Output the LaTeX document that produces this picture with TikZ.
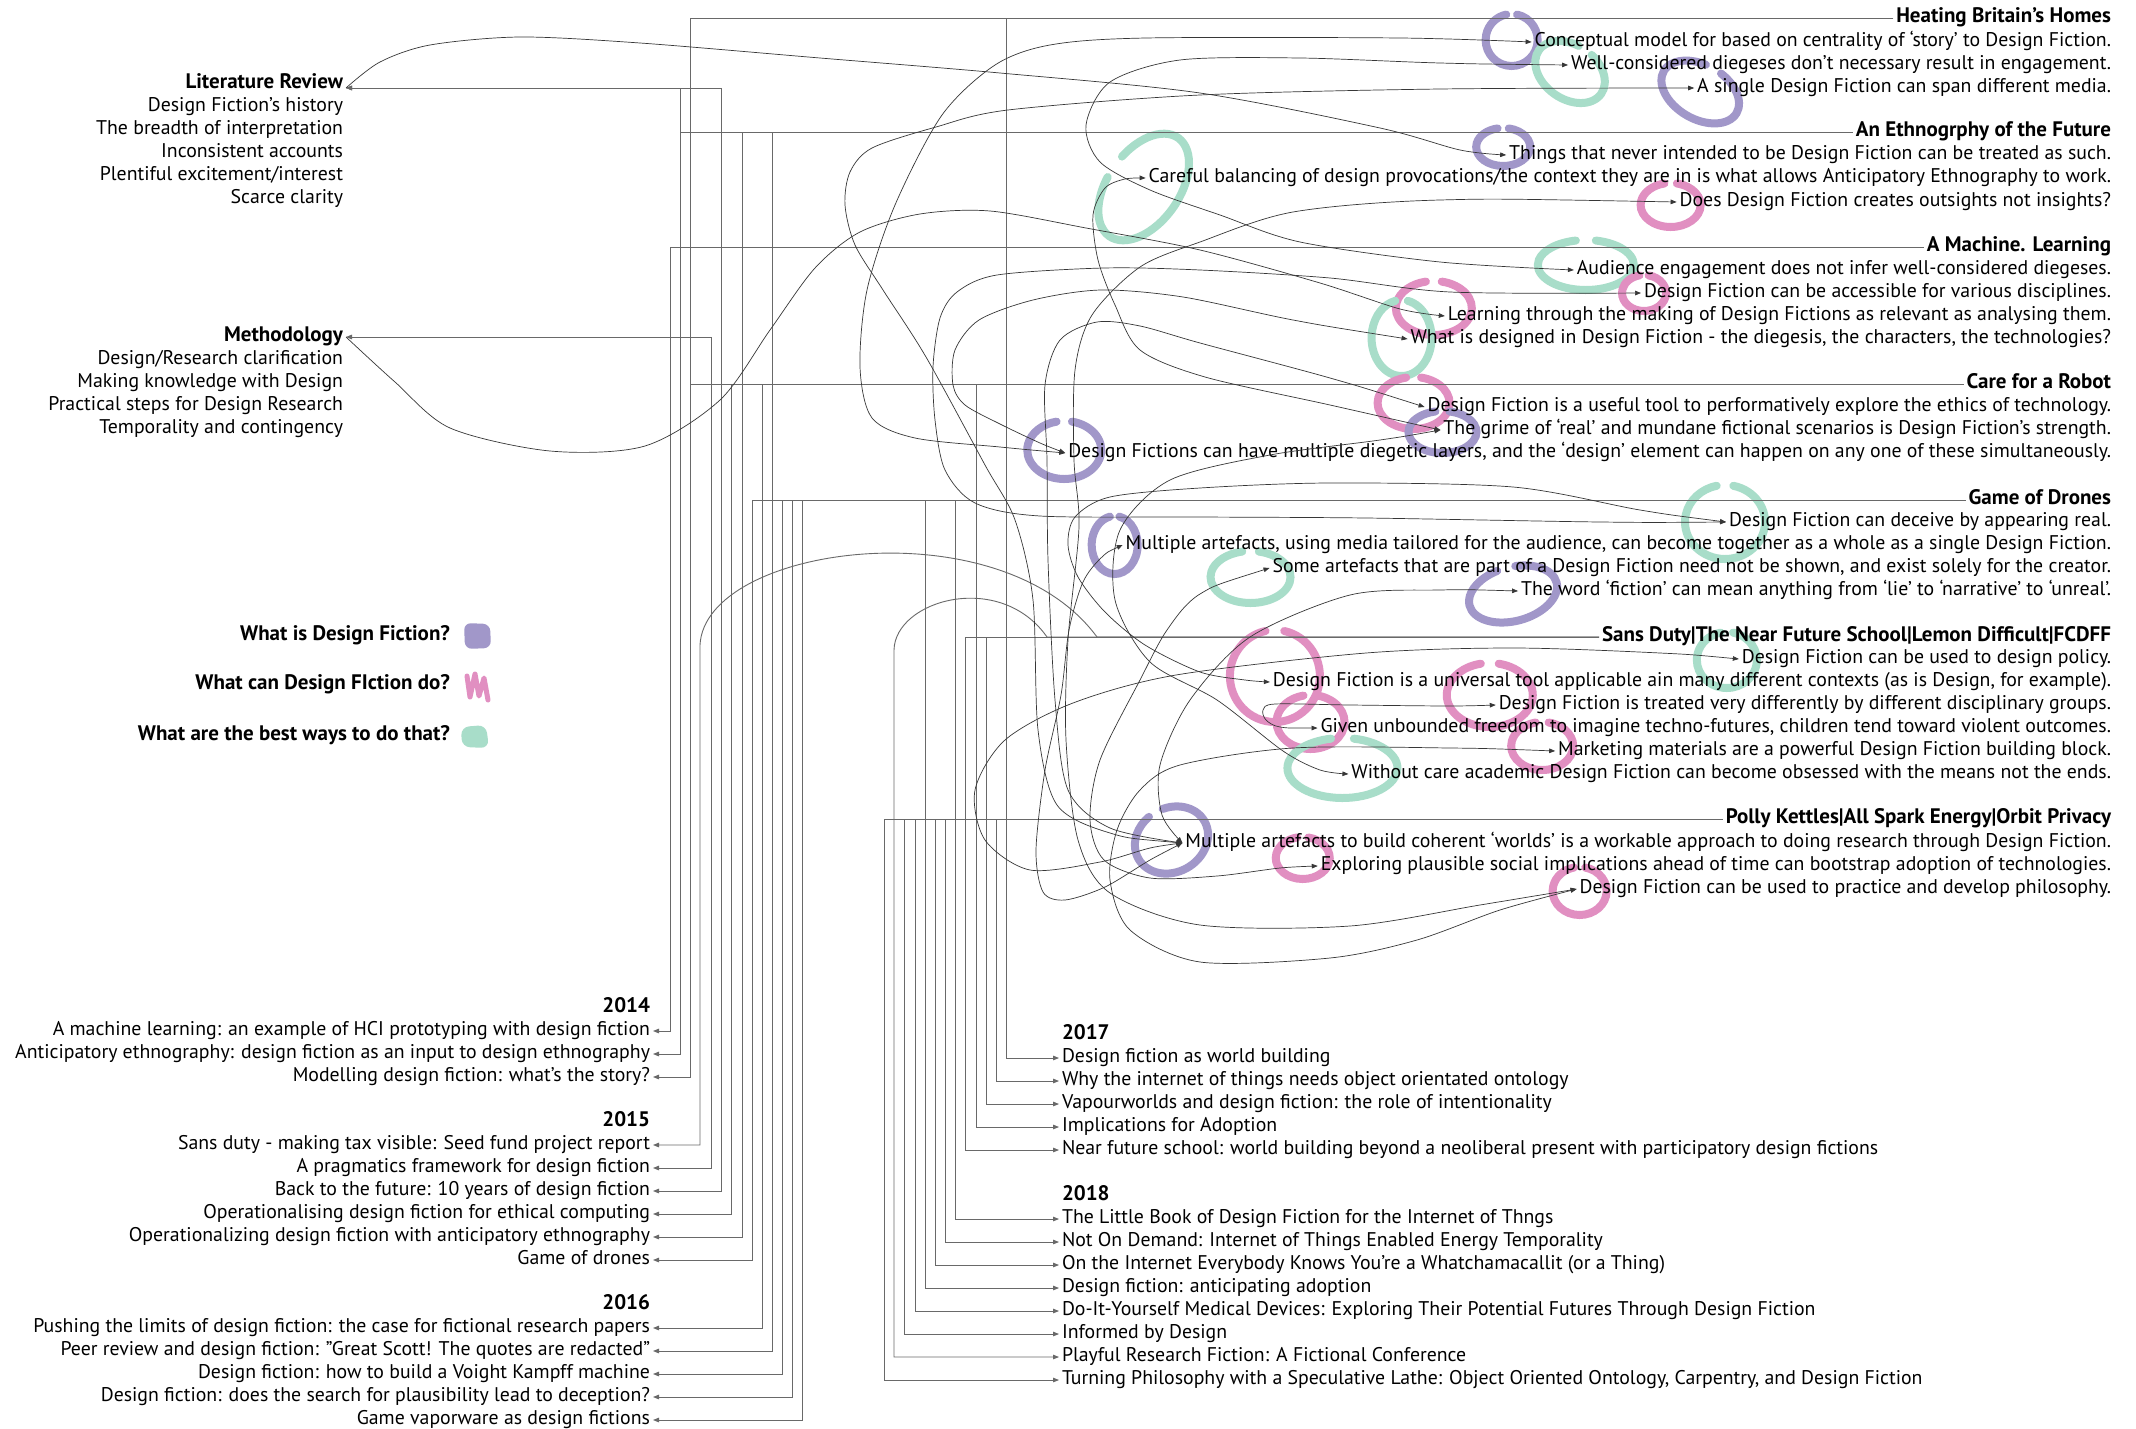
\documentclass[tikz,border=0pt]{standalone}
\usepackage{fontspec}
\setmainfont{PT Sans}
\usetikzlibrary{arrows.meta,calc}
\pgfdeclarelayer{bg}
\pgfsetlayers{bg,main}
\definecolor{cPur}{RGB}{161,151,201}
\definecolor{cPink}{RGB}{225,143,193}
\definecolor{cMint}{RGB}{168,221,201}
\definecolor{lineGray}{RGB}{105,105,105}
\definecolor{curveGray}{RGB}{55,55,55}

% brush-stroke loop: colour, node, dx, dy, x radius, y radius, rotation
\newcommand{\brush}[7]{%
  \begin{scope}[shift={($(#2.west)+(#3,#4)$)}, rotate=#7]
    \draw[#1, line width=8pt, line cap=round]
      (78:#5pt and #6pt) arc[start angle=78, end angle=-258, x radius=#5pt, y radius=#6pt];
  \end{scope}}

\begin{document}
\begin{tikzpicture}[x=1pt,y=-1pt,
  >={Triangle[length=6pt,width=4.6pt]},
  txt/.style={font=\fontsize{19.8}{23}\selectfont, inner sep=0pt, outer sep=3pt, text height=14pt, text depth=4.5pt},
  bold/.style={txt, font=\fontsize{21}{23}\selectfont\bfseries},
  rt/.style={txt, anchor=east},
  rtb/.style={bold, anchor=east},
  lf/.style={txt, anchor=west},
  lfb/.style={bold, anchor=west},
  treeline/.style={draw=lineGray, line width=0.9pt},
  link/.style={draw=curveGray, line width=0.7pt},
]
\useasboundingbox (0,0) rectangle (2136,1429);

% ---------- project headings and findings ----------
\node[rtb] (hHBH) at (2114,18) {Heating Britain’s Homes};
\node[rt] (f1) at (2114,42) {Conceptual model for based on centrality of ‘story’ to Design Fiction.};
\node[rt] (f2) at (2114,65) {Well-considered diegeses don’t necessary result in engagement.};
\node[rt] (f3) at (2114,88) {A single Design Fiction can span different media.};

\node[rtb] (hEth) at (2114,132) {An Ethnogrphy of the Future};
\node[rt] (f4) at (2114,155) {Things that never intended to be Design Fiction can be treated as such.};
\node[rt] (f5) at (2114,178) {Careful balancing of design provocations/the context they are in is what allows Anticipatory Ethnography to work.};
\node[rt] (f6) at (2114,202) {Does Design Fiction creates outsights not insights?};

\node[rtb] (hML) at (2114,247) {A Machine. Learning};
\node[rt] (f7) at (2114,270) {Audience engagement does not infer well-considered diegeses.};
\node[rt] (f8) at (2114,293) {Design Fiction can be accessible for various disciplines.};
\node[rt] (f9) at (2114,316) {Learning through the making of Design Fictions as relevant as analysing them.};
\node[rt] (f10) at (2114,339) {What is designed in Design Fiction - the diegesis, the characters, the technologies?};

\node[rtb] (hCfR) at (2114,384) {Care for a Robot};
\node[rt] (f11) at (2114,407) {Design Fiction is a useful tool to performatively explore the ethics of technology.};
\node[rt] (f12) at (2114,430) {The grime of ‘real’ and mundane fictional scenarios is Design Fiction’s strength.};
\node[rt] (f13) at (2114,453) {Design Fictions can have multiple diegetic layers, and the ‘design’ element can happen on any one of these simultaneously.};

\node[rtb] (hGoD) at (2114,500) {Game of Drones};
\node[rt] (f14) at (2114,522) {Design Fiction can deceive by appearing real.};
\node[rt] (f15) at (2114,545) {Multiple artefacts, using media tailored for the audience, can become together as a whole as a single Design Fiction.};
\node[rt] (f16) at (2114,568) {Some artefacts that are part of a Design Fiction need not be shown, and exist solely for the creator.};
\node[rt] (f17) at (2114,591) {The word ‘fiction’ can mean anything from ‘lie’ to ‘narrative’ to ‘unreal’.};

\node[rtb] (hSD) at (2114,637) {Sans Duty|The Near Future School|Lemon Difficult|FCDFF};
\node[rt] (f18) at (2114,659) {Design Fiction can be used to design policy.};
\node[rt] (f19) at (2114,682) {Design Fiction is a universal tool applicable ain many different contexts (as is Design, for example).};
\node[rt] (f20) at (2114,705) {Design Fiction is treated very differently by different disciplinary groups.};
\node[rt] (f21) at (2114,728) {Given unbounded freedom to imagine techno-futures, children tend toward violent outcomes.};
\node[rt] (f22) at (2114,751) {Marketing materials are a powerful Design Fiction building block.};
\node[rt] (f23) at (2114,774) {Without care academic Design Fiction can become obsessed with the means not the ends.};

\node[rtb] (hPK) at (2114,819) {Polly Kettles|All Spark Energy|Orbit Privacy};
\node[rt] (f24) at (2114,843) {Multiple artefacts to build coherent ‘worlds’ is a workable approach to doing research through Design Fiction.};
\node[rt] (f25) at (2114,866) {Exploring plausible social implications ahead of time can bootstrap adoption of technologies.};
\node[rt] (f26) at (2114,889) {Design Fiction can be used to practice and develop philosophy.};

% ---------- thesis chapters ----------
\node[rtb] (lit) at (346,84) {Literature Review};
\node[rt] (lit1) at (346,107) {Design Fiction’s history};
\node[rt] (lit2) at (346,130) {The breadth of interpretation};
\node[rt] (lit3) at (346,153) {Inconsistent accounts};
\node[rt] (lit4) at (346,176) {Plentiful excitement/interest};
\node[rt] (lit5) at (346,199) {Scarce clarity};

\node[rtb] (meth) at (346,337) {Methodology};
\node[rt] (meth1) at (346,360) {Design/Research clarification};
\node[rt] (meth2) at (346,383) {Making knowledge with Design};
\node[rt] (meth3) at (346,406) {Practical steps for Design Research};
\node[rt] (meth4) at (346,429) {Temporality and contingency};

% ---------- legend ----------
\node[rtb] (lg1) at (453,636) {What is Design Fiction?};
\node[rtb] (lg2) at (453,685) {What can Design FIction do?};
\node[rtb] (lg3) at (453,736) {What are the best ways to do that?};
\fill[cPur, rounded corners=7pt] (464,623) -- (490,624) -- (491,648) -- (465,649) -- cycle;
\draw[cPink, line width=5pt, line join=round, line cap=round] (467,676) -- (470,697) -- (475,674) -- (479,696) -- (484,678) -- (488,700);
\fill[cMint, rounded corners=8pt] (461,727) -- (486,725) -- (489,748) -- (462,747) -- cycle;

% ---------- publications 2014-2016 ----------
\node[rtb] (y14) at (653,1008) {2014};
\node[rt] (p1) at (653,1031) {A machine learning: an example of HCI prototyping with design fiction};
\node[rt] (p2) at (653,1054) {Anticipatory ethnography: design fiction as an input to design ethnography};
\node[rt] (p3) at (653,1077) {Modelling design fiction: what’s the story?};
\node[rtb] (y15) at (653,1122) {2015};
\node[rt] (p4) at (653,1145) {Sans duty - making tax visible: Seed fund project report};
\node[rt] (p5) at (653,1168) {A pragmatics framework for design fiction};
\node[rt] (p6) at (653,1191) {Back to the future: 10 years of design fiction};
\node[rt] (p7) at (653,1214) {Operationalising design fiction for ethical computing};
\node[rt] (p8) at (653,1237) {Operationalizing design fiction with anticipatory ethnography};
\node[rt] (p9) at (653,1260) {Game of drones};
\node[rtb] (y16) at (653,1305) {2016};
\node[rt] (p10) at (653,1328) {Pushing the limits of design fiction: the case for fictional research papers};
\node[rt] (p11) at (653,1351) {Peer review and design fiction: "Great Scott! The quotes are redacted"};
\node[rt] (p12) at (653,1374) {Design fiction: how to build a Voight Kampff machine};
\node[rt] (p13) at (653,1397) {Design fiction: does the search for plausibility lead to deception?};
\node[rt] (p14) at (653,1420) {Game vaporware as design fictions};

% ---------- publications 2017-2018 ----------
\node[lfb] (y17) at (1059,1035) {2017};
\node[lf] (q1) at (1059,1058) {Design fiction as world building};
\node[lf] (q2) at (1059,1081) {Why the internet of things needs object orientated ontology};
\node[lf] (q3) at (1059,1104) {Vapourworlds and design fiction: the role of intentionality};
\node[lf] (q4) at (1059,1127) {Implications for Adoption};
\node[lf] (q5) at (1059,1150) {Near future school: world building beyond a neoliberal present with participatory design fictions};
\node[lfb] (y18) at (1059,1196) {2018};
\node[lf] (q6) at (1059,1219) {The Little Book of Design Fiction for the Internet of Thngs};
\node[lf] (q7) at (1059,1242) {Not On Demand: Internet of Things Enabled Energy Temporality};
\node[lf] (q8) at (1059,1265) {On the Internet Everybody Knows You’re a Whatchamacallit (or a Thing)};
\node[lf] (q9) at (1059,1288) {Design fiction: anticipating adoption};
\node[lf] (q10) at (1059,1311) {Do-It-Yourself Medical Devices: Exploring Their Potential Futures Through Design Fiction};
\node[lf] (q11) at (1059,1334) {Informed by Design};
\node[lf] (q12) at (1059,1357) {Playful Research Fiction: A Fictional Conference};
\node[lf] (q13) at (1059,1380) {Turning Philosophy with a Speculative Lathe: Object Oriented Ontology, Carpentry, and Design Fiction};

% ---------- corner points of the publication tree ----------
\coordinate (j1) at (670,1031);  \coordinate (j2) at (680,1054);  \coordinate (j3) at (690,1077);
\coordinate (j4) at (700,1145);  \coordinate (j5) at (711,1168);  \coordinate (j6) at (721,1191);
\coordinate (j7) at (731,1214);  \coordinate (j8) at (742,1237);  \coordinate (j9) at (752,1260);
\coordinate (j10) at (762,1328); \coordinate (j11) at (772,1351); \coordinate (j12) at (782,1374);
\coordinate (j13) at (792,1397); \coordinate (j14) at (802,1420);
\coordinate (a4) at (700,645);   \coordinate (b4) at (1097,637);
\coordinate (k1) at (1006,1058); \coordinate (k2) at (996,1081);  \coordinate (k3) at (986,1104);
\coordinate (k4) at (976,1127);  \coordinate (k5) at (965,1150);  \coordinate (k6) at (955,1219);
\coordinate (k7) at (945,1242);  \coordinate (k8) at (935,1265);  \coordinate (k9) at (925,1288);
\coordinate (k10) at (915,1311); \coordinate (k11) at (904,1334); \coordinate (k12) at (894,1357);
\coordinate (k13) at (884,1380);
\coordinate (a12) at (894,650);  \coordinate (b12) at (1047,637);

% ---------- background and highlight strokes ----------
\begin{pgfonlayer}{bg}
\fill[white] (0,0) rectangle (2136,1429);
\brush{cPur}{f1}{-20}{-2}{26}{26}{0}
\brush{cMint}{f2}{2}{7}{38}{27}{-35}
\brush{cPur}{f3}{6}{4}{42}{27}{-30}
\brush{cPur}{f4}{-3}{-8}{27}{19}{0}
\brush{cMint}{f5}{-2}{9}{60}{36}{55}
\brush{cPink}{f6}{-6}{3}{30}{22}{0}
\brush{cMint}{f7}{12}{-5}{48}{25}{0}
\brush{cPink}{f8}{3}{0}{22}{18}{0}
\brush{cPink}{f9}{-11}{-8}{38}{27}{0}
\brush{cMint}{f10}{-6}{-1}{30}{38}{0}
\brush{cPink}{f11}{-11}{-4}{36}{26}{0}
\brush{cPur}{f12}{2}{2}{34}{21}{0}
\brush{cPur}{f13}{-1}{-3}{37}{29}{0}
\brush{cMint}{f14}{-1}{0}{40}{37}{0}
\brush{cPur}{f15}{-8}{0}{23}{29}{0}
\brush{cMint}{f16}{-19}{9}{40}{26}{0}
\brush{cPur}{f17}{-5}{3}{45}{27}{15}
\brush{cMint}{f18}{-12}{1}{30}{28}{0}
\brush{cPink}{f19}{5}{-6}{45}{46}{0}
\brush{cPink}{f20}{-6}{-10}{43}{32}{0}
\brush{cPink}{f21}{-7}{-6}{34}{27}{0}
\brush{cPink}{f22}{-13}{-5}{31}{24}{0}
\brush{cMint}{f23}{-6}{-6}{55}{30}{0}
\brush{cPur}{f24}{-11}{-3}{38}{32}{30}
\brush{cPink}{f25}{-15}{-8}{27}{21}{0}
\brush{cPink}{f26}{3}{2}{27}{24}{0}
\end{pgfonlayer}

% ---------- publication tree: 2014-2016 ----------
\draw[treeline,<-] (p1.east) -- (j1) |- (hML.west);
\draw[treeline,<->] (p2.east) -- (j2) |- ([yshift=-4pt]lit.east);
\draw[treeline] (j2) |- (hEth.west);
\draw[treeline,<-] (p3.east) -- (j3) |- (hHBH.west);
\draw[treeline] (j3) |- (hCfR.west);
\draw[treeline,<-] (p4.east) -- (j4) -- (a4) .. controls (705,545) and (1000,505) .. (b4) -- (hSD.west);
\draw[treeline,<->] (p5.east) -- (j5) |- (meth.east);
\draw[treeline,<->] (p6.east) -- (j6) |- ([yshift=-4pt]lit.east);
\draw[treeline,<-] (p7.east) -- (j7) |- (hCfR.west);
\draw[treeline,<-] (p8.east) -- (j8) |- (hEth.west);
\draw[treeline,<-] (p9.east) -- (j9) |- (hGoD.west);
\draw[treeline,<-] (p10.east) -- (j10) |- (hCfR.west);
\draw[treeline,<-] (p11.east) -- (j11) |- (hEth.west);
\draw[treeline,<-] (p12.east) -- (j12) |- (hGoD.west);
\draw[treeline,<-] (p13.east) -- (j13) |- (hGoD.west);
\draw[treeline,<-] (p14.east) -- (j14) |- (hGoD.west);

% ---------- publication tree: 2017-2018 ----------
\draw[treeline,->] (hHBH.west) -| (k1) -- (q1.west);
\draw[treeline,->] (hPK.west) -| (k2) -- (q2.west);
\draw[treeline,->] (hSD.west) -| (k3) -- (q3.west);
\draw[treeline,->] (hCfR.west) -| (k4) -- (q4.west);
\draw[treeline,->] (hSD.west) -| (k5) -- (q5.west);
\draw[treeline,->] (hGoD.west) -| (k6) -- (q6.west);
\draw[treeline,->] (hPK.west) -| (k7) -- (q7.west);
\draw[treeline,->] (hPK.west) -| (k8) -- (q8.west);
\draw[treeline,->] (hGoD.west) -| (k9) -- (q9.west);
\draw[treeline,->] (hPK.west) -| (k10) -- (q10.west);
\draw[treeline,->] (hPK.west) -| (k11) -- (q11.west);
\draw[treeline,->] (hSD.west) -- (b12) .. controls (1000,570) and (895,600) .. (a12) -- (k12) -- (q12.west);
\draw[treeline,->] (hPK.west) -| (k13) -- (q13.west);

% ---------- links from chapters to findings ----------
\draw[link,->] plot[smooth] coordinates {([yshift=-4pt]lit.east) (380,62) (430,45) (520,37) (640,43) (820,58) (1000,73) (1200,93) (1380,128) (1460,150) (f4.west)};
\draw[link,->] plot[smooth] coordinates {(meth.east) (395,382) (450,428) (550,451) (645,446) (720,400) (770,330) (815,268) (860,232) (920,214) (990,211) (1086,228) (1200,250) (1320,283) (1400,309) (f9.west)};

% ---------- links between findings ----------
\draw[link,<->] plot[smooth] coordinates {(f13.west) (1000,447) (915,438) (872,418) (860,367) (867,290) (895,205) (942,115) (995,65) (1050,45) (1146,38) (1400,38) (f1.west)};
\draw[link,<->] plot[smooth] coordinates {(f2.west) (1440,63) (1300,58) (1180,60) (1110,82) (1086,125) (1100,162) (1150,190) (1220,215) (1300,242) (1440,262) (f7.west)};
\draw[link,<->] plot[smooth] coordinates {(f24.west) (1110,833) (1057,805) (1038,730) (1033,600) (1015,520) (985,465) (926,357) (883,290) (855,245) (845,205) (850,172) (872,148) (936,127) (1008,110) (1200,95) (1440,89) (f3.west)};
\draw[link,<->] plot[smooth] coordinates {(f12.west) (1330,405) (1205,377) (1140,350) (1115,305) (1098,260) (1093,215) (1105,188) (1125,179) (f5.west)};
\draw[link,<->] plot[smooth] coordinates {(f14.west) (1600,522) (1366,518) (1200,517) (1040,516) (975,503) (945,470) (935,420) (933,367) (940,318) (957,292) (997,275) (1104,268) (1200,270) (1330,278) (1450,292) (f8.west)};
\draw[link,<->] plot[smooth] coordinates {(f10.west) (1293,320) (1183,297) (1101,290) (1033,300) (979,320) (955,350) (953,385) (965,405) (1000,424) (1040,443) (f13.west)};
\draw[link,<->] plot[smooth] coordinates {(f11.west) (1330,378) (1200,343) (1140,326) (1097,322) (1060,340) (1045,385) (1047,460) (1048,560) (1055,700) (1068,790) (1110,828) (f24.west)};
\draw[link,<->] plot[smooth] coordinates {(f6.west) (1440,200) (1293,212) (1200,242) (1140,267) (1092,315) (1075,370) (1074,460) (1079,527) (1068,640) (1066,740) (1078,840) (1110,893) (1200,925) (1350,926) (1480,905) (f26.west)};
\draw[link,<->] plot[smooth] coordinates {(f14.west) (1640,510) (1513,487) (1330,483) (1200,488) (1110,497) (1075,517) (1068,545) (1078,577) (1105,612) (1145,645) (1200,672) (1245,680) (f19.west)};
\draw[link,<->] plot[smooth] coordinates {(f15.west) (1102,557) (1083,582) (1069,630) (1061,695) (1045,770) (1036,850) (1043,892) (1065,900) (1105,887) (1150,860) (f24.west)};
\draw[link,<->] plot[smooth] coordinates {(f17.west) (1440,590) (1350,595) (1250,637) (1190,700) (1160,765) (1162,815) (f24.west)};
\draw[link,<->] plot[smooth] coordinates {(f21.west) (1280,727) (1266,720) (1263,710) (1275,704) (1350,705) (1450,706) (f20.west)};
\draw[link,<->] plot[smooth] coordinates {(f22.west) (1450,748) (1293,748) (1180,765) (1140,790) (1117,830) (1110,880) (1130,930) (1200,962) (1330,958) (1417,940) (1500,910) (f26.west)};
\draw[link,<->] plot[smooth] coordinates {(f16.west) (1200,594) (1167,630) (1140,680) (1100,760) (1090,820) (1104,860) (1150,878) (1217,876) (1280,868) (f25.west)};
\draw[link,<->] plot[smooth] coordinates {(f18.west) (1660,653) (1513,648) (1366,653) (1176,675) (1073,703) (1005,740) (975,790) (985,840) (1030,870) (1100,862) (1150,848) (f24.west)};
\draw[link,<->] plot[smooth] coordinates {(f12.west) (1380,440) (1270,455) (1170,480) (1120,530) (1115,600) (1150,662) (1217,700) (1283,751) (1320,770) (f23.west)};
\end{tikzpicture}
\end{document}
